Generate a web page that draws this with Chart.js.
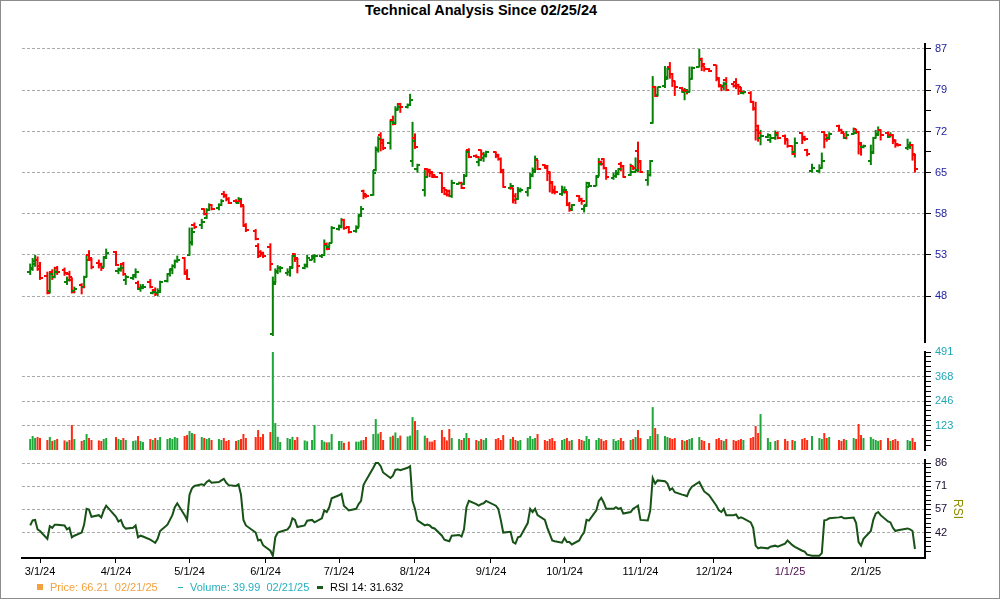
<!DOCTYPE html>
<html>
<head>
<meta charset="utf-8">
<title>Technical Analysis</title>
<script src="https://cdn.jsdelivr.net/npm/chart.js@4.4.1/dist/chart.umd.min.js"></script>
<style>
  body { margin: 0; background: #fff; font-family: "Liberation Sans", Arial, sans-serif; }
  #frame { position: relative; width: 1000px; height: 600px; overflow: hidden; background: #fff; }
  #edge { position: absolute; left: 0; top: 0; width: 998px; height: 597px; border: 1px solid #8c8c8c; pointer-events: none; }
  canvas { position: absolute; left: 0; }
  #title { position: absolute; top: 2px; left: 0; width: 962px; text-align: center; font-weight: bold; font-size: 14.5px; line-height: 16px; color: #000; }
  .lg { position: absolute; top: 581px; font-size: 11px; line-height: 13px; white-space: pre; }
</style>
</head>
<body>
<div id="frame">
  <div id="title">Technical Analysis Since 02/25/24</div>
  <canvas id="priceChart" width="1000" height="310" style="top:38px"></canvas>
  <canvas id="volumeChart" width="1000" height="112" style="top:344px"></canvas>
  <canvas id="rsiChart" width="1000" height="126" style="top:454px"></canvas>
  <div style="position:absolute;left:37px;top:584px;width:6px;height:6px;background:#f4a13c"></div>
  <div class="lg" style="left:50px;color:#f4a13c">Price: 66.21  02/21/25</div>
  <div style="position:absolute;left:178px;top:587px;width:5px;height:1px;background:#26b0bf"></div>
  <div class="lg" style="left:190px;color:#26b0bf">Volume: 39.99  02/21/25</div>
  <div style="position:absolute;left:317px;top:586px;width:6px;height:3px;background:#1e5a1e"></div>
  <div class="lg" style="left:330px;color:#000">RSI 14: 31.632</div>
  <div id="edge"></div>
</div>
<script>
const dates = [
  '2/26/24','2/27/24','2/28/24','2/29/24',
  '3/1/24','3/4/24','3/5/24','3/6/24','3/7/24','3/8/24','3/11/24','3/12/24','3/13/24','3/14/24','3/15/24','3/18/24','3/19/24','3/20/24','3/21/24','3/22/24','3/25/24','3/26/24','3/27/24','3/28/24',
  '4/1/24','4/2/24','4/3/24','4/4/24','4/5/24','4/8/24','4/9/24','4/10/24','4/11/24','4/12/24','4/15/24','4/16/24','4/17/24','4/18/24','4/19/24','4/22/24','4/23/24','4/24/24','4/25/24','4/26/24','4/29/24','4/30/24',
  '5/1/24','5/2/24','5/3/24','5/6/24','5/7/24','5/8/24','5/9/24','5/10/24','5/13/24','5/14/24','5/15/24','5/16/24','5/17/24','5/20/24','5/21/24','5/22/24','5/23/24','5/24/24','5/28/24','5/29/24','5/30/24','5/31/24',
  '6/3/24','6/4/24','6/5/24','6/6/24','6/7/24','6/10/24','6/11/24','6/12/24','6/13/24','6/14/24','6/17/24','6/18/24','6/20/24','6/21/24','6/24/24','6/25/24','6/26/24','6/27/24','6/28/24',
  '7/1/24','7/2/24','7/3/24','7/5/24','7/8/24','7/9/24','7/10/24','7/11/24','7/12/24','7/15/24','7/16/24','7/17/24','7/18/24','7/19/24','7/22/24','7/23/24','7/24/24','7/25/24','7/26/24','7/29/24','7/30/24','7/31/24',
  '8/1/24','8/2/24','8/5/24','8/6/24','8/7/24','8/8/24','8/9/24','8/12/24','8/13/24','8/14/24','8/15/24','8/16/24','8/19/24','8/20/24','8/21/24','8/22/24','8/23/24','8/26/24','8/27/24','8/28/24','8/29/24','8/30/24',
  '9/3/24','9/4/24','9/5/24','9/6/24','9/9/24','9/10/24','9/11/24','9/12/24','9/13/24','9/16/24','9/17/24','9/18/24','9/19/24','9/20/24','9/23/24','9/24/24','9/25/24','9/26/24','9/27/24','9/30/24',
  '10/1/24','10/2/24','10/3/24','10/4/24','10/7/24','10/8/24','10/9/24','10/10/24','10/11/24','10/14/24','10/15/24','10/16/24','10/17/24','10/18/24','10/21/24','10/22/24','10/23/24','10/24/24','10/25/24','10/28/24','10/29/24','10/30/24','10/31/24',
  '11/1/24','11/4/24','11/5/24','11/6/24','11/7/24','11/8/24','11/11/24','11/12/24','11/13/24','11/14/24','11/15/24','11/18/24','11/19/24','11/20/24','11/21/24','11/22/24','11/25/24','11/26/24','11/27/24','11/29/24',
  '12/2/24','12/3/24','12/4/24','12/5/24','12/6/24','12/9/24','12/10/24','12/11/24','12/12/24','12/13/24','12/16/24','12/17/24','12/18/24','12/19/24','12/20/24','12/23/24','12/24/24','12/26/24','12/27/24','12/30/24','12/31/24',
  '1/2/25','1/3/25','1/6/25','1/7/25','1/8/25','1/10/25','1/13/25','1/14/25','1/15/25','1/16/25','1/17/25','1/21/25','1/22/25','1/23/25','1/24/25','1/27/25','1/28/25','1/29/25','1/30/25','1/31/25',
  '2/3/25','2/4/25','2/5/25','2/6/25','2/7/25','2/10/25','2/11/25','2/12/25','2/13/25','2/14/25','2/18/25','2/19/25','2/20/25','2/21/25'
];

const opens = [
  50.8, 51.3, 51.8, 52.3,
  51.6, 50.4, 48.6, 50.8, 50.3, 51.3, 51.1, 49.6, 50.6, 49.9, 48.6, 49.3, 49.1, 50.3, 53.0, 52.4, 52.0, 51.9, 51.5, 52.7,
  53.4, 51.0, 51.1, 51.8, 49.9, 50.1, 50.5, 49.5, 48.8, 48.9, 49.6, 48.4, 48.7, 48.3, 48.6, 49.8, 50.6, 51.1, 51.6, 52.2, 52.6, 50.8,
  53.0, 54.6, 57.0, 56.9, 59.2, 57.9, 59.1, 59.7, 59.3, 59.8, 61.4, 61.2, 60.7, 60.4, 60.1, 60.3, 59.6, 56.8, 56.1, 54.2, 53.4, 53.2,
  54.0, 43.8, 49.6, 50.9, 51.3, 50.7, 50.8, 51.5, 53.1, 52.5, 51.4, 51.7, 52.4, 52.6, 52.8, 53.0, 54.4, 54.0, 54.6,
  56.4, 56.8, 57.7, 56.7, 56.2, 56.7, 58.3, 61.8, 61.3, 61.2, 65.0, 68.4, 70.7, 69.8, 69.4, 73.4, 72.8, 75.2, 76.2, 75.7, 76.0, 66.5,
  70.3, 65.2, 62.0, 65.2, 65.0, 64.6, 64.2, 64.5, 62.3, 61.9, 61.8, 61.0, 62.9, 63.0, 62.8, 64.1, 68.3, 67.3, 66.3, 68.2, 66.9, 67.4,
  67.9, 67.4, 66.8, 65.0, 62.3, 62.2, 61.0, 60.7, 61.8, 61.7, 62.3, 64.2, 65.0, 66.6, 65.8, 65.6, 64.6, 63.0, 62.0, 61.3,
  61.6, 61.7, 59.9, 59.2, 61.0, 60.7, 59.2, 59.7, 62.4, 62.6, 64.1, 66.3, 66.7, 65.3, 63.7, 64.1, 64.4, 66.0, 65.7, 64.2, 65.6, 64.7, 68.0,
  66.5, 63.5, 64.2, 72.8, 79.4, 77.8, 79.5, 81.0, 83.4, 82.0, 80.5, 79.2, 78.5, 78.7, 78.5, 81.0, 83.3, 85.0, 83.5, 83.0,
  83.7, 81.2, 79.7, 79.5, 80.8, 79.9, 80.4, 79.8, 79.3, 78.2, 78.2, 76.6, 75.5, 72.2, 70.2, 70.4, 69.9, 70.2, 71.0, 70.5, 69.9,
  68.9, 67.9, 71.0, 70.4, 68.3, 64.8, 64.9, 65.3, 71.2, 70.8, 70.3, 72.3, 71.6, 71.0, 70.3, 70.9, 71.7, 71.3, 69.2, 68.7,
  66.5, 67.9, 70.2, 70.9, 71.6, 71.0, 70.4, 70.8, 69.8, 69.2, 68.5, 68.7, 69.0, 67.5
];

const highs = [
  51.9, 52.6, 53.0, 52.8,
  52.1, 50.9, 50.8, 51.2, 51.5, 51.6, 51.4, 50.3, 51.0, 50.2, 49.1, 49.5, 50.4, 53.0, 53.6, 52.6, 52.4, 52.0, 52.8, 53.8,
  53.5, 51.4, 51.8, 52.1, 50.5, 50.6, 51.3, 49.8, 49.4, 49.4, 50.0, 48.8, 49.0, 48.9, 49.8, 50.7, 51.3, 51.8, 52.4, 52.9, 52.7, 51.2,
  56.6, 56.6, 57.3, 57.8, 59.3, 59.3, 60.0, 59.9, 60.0, 60.6, 61.8, 61.4, 60.9, 60.6, 60.9, 60.5, 59.7, 57.2, 56.4, 54.5, 53.6, 53.4,
  54.5, 50.3, 51.3, 51.7, 51.6, 51.3, 51.6, 53.0, 53.2, 52.6, 51.9, 53.0, 53.0, 53.1, 53.1, 55.0, 54.6, 54.6, 56.8,
  57.0, 57.9, 57.8, 56.8, 56.9, 58.4, 59.6, 62.0, 61.4, 65.0, 68.8, 70.5, 71.2, 70.1, 73.4, 74.1, 75.8, 76.3, 76.4, 76.3, 78.1, 73.0,
  71.0, 66.0, 65.0, 65.3, 65.2, 64.7, 64.3, 64.6, 62.4, 62.0, 62.0, 63.5, 63.2, 63.2, 64.4, 68.2, 68.5, 67.5, 67.2, 68.3, 67.9, 68.1,
  68.0, 67.6, 67.0, 65.2, 63.0, 62.3, 61.5, 62.4, 62.3, 62.4, 64.6, 65.4, 67.3, 66.6, 65.9, 65.8, 64.8, 63.2, 62.6, 62.6,
  62.5, 61.8, 60.2, 59.9, 61.2, 60.8, 59.8, 63.2, 62.9, 64.2, 66.9, 66.5, 66.9, 65.4, 64.6, 65.0, 65.3, 66.3, 65.8, 66.0, 65.7, 67.0, 69.6,
  66.6, 65.0, 66.6, 81.5, 79.6, 79.5, 83.5, 83.2, 84.3, 82.1, 80.6, 79.4, 79.2, 79.0, 83.4, 83.4, 87.0, 85.2, 83.6, 83.1,
  83.8, 81.3, 79.9, 80.4, 81.3, 80.1, 81.1, 80.0, 79.4, 78.7, 78.6, 76.8, 76.6, 72.5, 71.6, 71.0, 70.8, 71.5, 71.3, 70.8, 70.1,
  69.0, 70.3, 71.2, 70.6, 68.4, 66.0, 65.9, 67.8, 71.4, 70.9, 71.2, 72.5, 71.8, 71.1, 71.4, 72.0, 71.8, 71.4, 69.5, 69.1,
  69.1, 70.4, 71.6, 72.2, 71.7, 71.3, 71.2, 70.9, 70.0, 69.3, 70.1, 69.6, 69.2, 67.6
];

const lows = [
  50.5, 51.0, 51.5, 51.0,
  49.9, 48.2, 48.3, 49.9, 50.1, 50.5, 50.4, 49.3, 49.7, 48.3, 48.3, 48.2, 48.9, 50.2, 52.4, 51.2, 51.3, 51.0, 51.4, 52.5,
  51.6, 50.6, 50.9, 50.4, 49.3, 49.9, 50.1, 48.7, 48.5, 48.8, 48.9, 48.2, 48.0, 48.0, 48.5, 49.6, 50.3, 50.6, 51.3, 52.0, 50.5, 49.9,
  52.9, 54.2, 56.4, 56.4, 58.3, 57.8, 58.9, 59.0, 59.0, 59.6, 60.8, 60.3, 59.9, 60.0, 59.9, 59.4, 56.7, 56.0, 54.9, 52.6, 52.8, 52.6,
  51.0, 43.6, 49.5, 50.6, 50.8, 50.4, 50.3, 51.3, 52.1, 50.7, 51.2, 51.4, 52.3, 52.0, 52.6, 52.9, 53.6, 53.9, 54.5,
  56.2, 56.5, 56.3, 55.8, 55.9, 56.6, 58.1, 60.6, 60.8, 61.1, 64.8, 67.8, 68.0, 68.2, 68.3, 72.4, 72.6, 75.0, 74.6, 75.4, 75.9, 65.5,
  68.4, 64.6, 61.0, 64.0, 63.9, 63.8, 63.9, 61.5, 61.2, 61.0, 60.9, 60.8, 62.8, 62.1, 62.7, 64.0, 66.9, 66.9, 65.6, 66.5, 66.3, 67.0,
  66.9, 66.5, 64.5, 62.3, 62.0, 60.0, 59.9, 60.5, 61.6, 61.0, 62.1, 63.9, 64.8, 65.0, 65.2, 63.3, 61.6, 61.4, 61.3, 61.1,
  61.4, 59.6, 58.8, 58.9, 60.2, 59.8, 58.7, 59.5, 62.4, 62.5, 64.0, 65.7, 65.1, 63.5, 63.5, 63.8, 64.2, 64.8, 63.8, 64.1, 65.0, 64.6, 64.7,
  64.6, 62.6, 64.0, 72.7, 77.5, 77.6, 79.2, 80.8, 81.0, 79.4, 77.7, 78.3, 76.9, 78.0, 78.4, 80.8, 83.2, 82.5, 82.4, 82.3,
  80.5, 79.3, 78.6, 78.8, 78.6, 79.3, 79.0, 77.9, 78.2, 78.0, 76.4, 75.0, 69.8, 69.6, 69.0, 70.2, 69.4, 69.9, 70.0, 69.1, 68.6,
  67.4, 67.0, 69.2, 69.7, 67.2, 64.6, 64.5, 65.2, 68.5, 69.6, 70.0, 71.3, 70.9, 70.1, 70.0, 70.8, 71.0, 67.5, 67.3, 68.5,
  65.8, 67.6, 70.1, 70.7, 69.8, 70.3, 70.3, 69.2, 68.6, 68.8, 68.2, 68.4, 66.5, 64.6
];

const closes = [
  51.2, 52.2, 52.3, 51.2,
  50.1, 48.4, 50.6, 50.2, 50.8, 50.8, 50.7, 49.9, 50.2, 48.5, 48.8, 49.0, 50.2, 52.4, 52.6, 51.5, 51.7, 51.3, 52.6, 53.3,
  51.7, 51.2, 51.4, 50.6, 50.3, 50.4, 50.8, 48.9, 49.1, 49.0, 49.0, 48.5, 48.2, 48.5, 49.7, 50.6, 51.2, 51.6, 52.2, 52.3, 50.6, 50.0,
  54.7, 56.0, 56.7, 57.4, 58.5, 59.0, 59.8, 59.2, 59.7, 60.3, 61.0, 60.6, 60.1, 60.2, 60.7, 59.7, 56.9, 56.3, 55.0, 52.8, 53.1, 52.9,
  51.8, 49.4, 51.0, 51.4, 51.4, 50.9, 51.4, 52.8, 52.6, 51.6, 51.6, 52.6, 52.8, 52.9, 53.0, 54.3, 53.8, 54.5, 56.5,
  56.7, 57.6, 56.5, 56.0, 56.6, 58.2, 59.2, 61.0, 61.0, 64.6, 68.2, 70.0, 69.4, 68.6, 73.1, 72.6, 75.3, 75.7, 75.7, 76.0, 76.9, 69.7,
  68.7, 65.8, 64.0, 64.7, 64.7, 64.0, 64.0, 62.3, 61.4, 61.2, 61.0, 63.0, 63.0, 62.3, 64.1, 67.9, 67.1, 67.1, 66.6, 67.6, 67.2, 67.9,
  67.2, 66.8, 64.7, 62.4, 62.6, 60.5, 60.6, 62.0, 62.0, 62.2, 64.1, 64.7, 66.8, 65.1, 65.4, 64.7, 63.2, 61.6, 61.6, 62.0,
  62.0, 59.7, 59.0, 59.7, 60.5, 60.4, 59.6, 63.0, 62.6, 64.0, 66.0, 65.9, 65.3, 64.0, 64.1, 64.6, 65.1, 65.6, 64.0, 64.7, 65.3, 65.0, 66.3,
  64.7, 64.2, 66.5, 79.3, 77.7, 79.3, 81.3, 82.9, 82.0, 80.5, 79.3, 78.9, 78.8, 78.4, 80.9, 83.2, 84.7, 83.9, 82.9, 82.5,
  81.0, 79.5, 79.3, 79.9, 78.9, 79.5, 79.6, 78.6, 78.4, 78.4, 76.6, 75.3, 71.5, 71.1, 70.6, 70.7, 70.2, 70.7, 70.3, 70.0, 68.8,
  67.6, 69.4, 70.0, 70.0, 67.5, 65.4, 65.4, 66.4, 70.0, 70.0, 70.9, 71.6, 71.2, 70.2, 70.8, 71.1, 71.3, 69.4, 68.7, 68.9,
  67.8, 70.2, 70.8, 71.6, 70.8, 70.7, 70.7, 69.7, 69.0, 69.0, 69.0, 69.1, 67.4, 65.1
];

const volumes = [
  55, 70, 60, 65,
  60, 50, 65, 45, 50, 55, 48, 42, 50, 125, 55, 45, 50, 80, 60, 50, 48, 45, 55, 60,
  65, 55, 50, 60, 50, 45, 48, 70, 45, 40, 55, 50, 60, 50, 65, 55, 60, 55, 65, 60, 70, 75,
  95, 85, 80, 65, 60, 55, 60, 50, 55, 50, 60, 45, 50, 45, 50, 55, 80, 60, 65, 100, 65, 80,
  90, 491, 135, 66, 40, 60, 55, 66, 50, 65, 48, 44, 50, 125, 50, 42, 38, 39, 80,
  45, 45, 36, 42, 42, 42, 48, 50, 65, 80, 155, 82, 90, 50, 66, 72, 88, 60, 72, 68, 72, 165,
  145, 100, 72, 60, 42, 42, 50, 100, 65, 48, 105, 60, 55, 50, 60, 85, 60, 50, 45, 55, 50, 60,
  55, 60, 50, 75, 55, 65, 50, 45, 50, 60, 70, 55, 60, 80, 50, 45, 55, 60, 45, 50,
  55, 60, 45, 50, 55, 50, 45, 70, 55, 50, 60, 55, 45, 50, 55, 45, 50, 60, 45, 50, 55, 65, 100,
  60, 55, 70, 215, 110, 80, 70, 65, 60, 55, 60, 50, 45, 50, 55, 60, 65, 50, 45, 35,
  55, 60, 50, 45, 55, 50, 45, 50, 55, 50, 60, 65, 120, 85, 180, 60, 40, 45, 50, 55, 45,
  50, 45, 55, 60, 50, 70, 60, 55, 85, 60, 65, 50, 45, 55, 50, 60, 55, 130, 75, 60,
  65, 55, 50, 45, 50, 60, 45, 50, 55, 45, 50, 45, 60, 40
];

const rsi14 = [
  46.5, 49.7, 50, 44,
  43, 38, 46, 45, 47, 47, 46.5, 44, 45, 39, 40, 42, 47, 57, 56.5, 52, 53, 51.5, 56, 59,
  52, 49, 50, 46, 44.5, 45, 46.5, 39, 40, 39.5, 37.5, 36.5, 35.5, 38, 43, 47, 50, 53, 58, 60.5, 53, 50,
  66, 70, 71.5, 72.5, 72, 74, 75, 73.5, 74, 75, 76, 73.5, 72, 71.5, 72.5, 66, 50, 46.5, 42, 37, 37.5, 34,
  30.5, 27.3, 39, 42, 42.5, 44, 46, 51, 50, 45.5, 46.5, 49.5, 50, 48.5, 51, 56, 55, 58, 63.7,
  65.6, 66.5, 59, 56, 57, 60, 62, 72, 75, 83, 86, 86, 84, 80, 76.5, 78, 81.6, 82, 81.5, 83, 84, 62,
  57, 49.7, 46.5, 47, 46.5, 45, 44.6, 40, 37.5, 37, 36.5, 40, 40.5, 39.5, 44, 58, 62, 60, 59, 60, 60.5, 62,
  59, 57, 50, 42, 42.5, 36, 35, 39, 39.5, 48, 57, 55, 57, 53, 50, 45, 41, 37, 36.5, 35.6,
  38.5, 36, 36, 34.5, 37, 40, 42, 50, 49.5, 56, 62, 64, 61, 57, 57, 58, 57, 57.5, 54, 55, 57, 58, 59,
  50, 49.7, 56, 76.5, 73, 75, 74.5, 73, 69, 70, 67.5, 66, 65.6, 65, 68.8, 71, 74, 71, 68, 65.6,
  59, 56, 55, 57, 53, 53, 53.5, 51, 51.6, 51, 48.4, 45, 33.7, 32, 32.5, 32, 33, 33.7, 33, 35, 37,
  34, 33, 30.5, 30, 28, 27.3, 27.3, 29, 49.7, 50, 51, 51.6, 52, 51, 51, 51.5, 48, 36, 33.7, 38,
  43, 50, 54, 55, 53, 49, 48.4, 45, 43, 43.5, 44.6, 44, 43, 31.6
];

const monthTicks = ['3/1/24','4/1/24','5/1/24','6/1/24','7/1/24','8/1/24','9/1/24','10/1/24','11/1/24','12/1/24','1/1/25','2/1/25'];

const priceTickValues = [48, 53.0, 58.5, 64.6, 71.3, 78.8, 87.0];
const priceTickLabels = ['48', '53', '58', '65', '72', '79', '87'];
const priceMinorTicks = [67.9, 75.0, 82.8];

const volumeTickValues = [122.75, 245.5, 368.25, 491];
const volumeTickLabels = ['123', '246', '368', '491'];

const rsiTickValues = [42, 56.67, 71.33, 86];
const rsiTickLabels = ['42', '57', '71', '86'];

// day number counted from 3/1/24, so the time axis is calendar-linear like the original
function dayNumber(s) {
    const [m, d, y] = s.split('/').map(Number);
    return (Date.UTC(2000 + y, m - 1, d) - Date.UTC(2024, 2, 1)) / 86400000;
}

const xs = dates.map(dayNumber);
const xMin = -7.35, xMax = 361.1;
const upColor = '#078207', downColor = '#ff0000';
const barColors = closes.map((c, i) => c >= opens[i] ? upColor : downColor);
const volColors = closes.map((c, i) => c >= opens[i] ? '#1fa83a' : '#ff2a12');

Chart.defaults.font.family = '"Liberation Sans", Arial, sans-serif';
Chart.defaults.font.size = 11;

function minorGrid(ctx) {
    return ctx.tick && ctx.tick.minor ? 'rgba(0,0,0,0)' : '#aaaaaa';
}

function hiddenX() {
    return { type: 'linear', min: xMin, max: xMax, offset: false, display: false };
}

// fixed axis box, no extra room for label overflow, so every pane keeps its exact plot area
function fitRight(width) {
    return s => { s.width = width; s.paddingTop = 0; s.paddingBottom = 0; };
}

const ohlcTicks = {
    id: 'ohlcTicks',
    afterDatasetsDraw(chart) {
        const { ctx, scales: { x, y } } = chart;
        ctx.save();
        ctx.lineWidth = 2;
        xs.forEach((d, i) => {
            const px = Math.round(x.getPixelForValue(d));
            const yo = Math.round(y.getPixelForValue(opens[i]));
            const yc = Math.round(y.getPixelForValue(closes[i]));
            ctx.strokeStyle = barColors[i];
            ctx.beginPath();
            ctx.moveTo(px - 3, yo);
            ctx.lineTo(px, yo);
            ctx.moveTo(px, yc);
            ctx.lineTo(px + 3, yc);
            ctx.stroke();
        });
        ctx.restore();
    }
};

const baseOptions = {
    animation: false,
    responsive: false,
    devicePixelRatio: 1,
    events: [],
    plugins: { legend: { display: false }, tooltip: { enabled: false } }
};

new Chart(document.getElementById('priceChart'), {
    type: 'bar',
    data: {
        datasets: [{
            data: xs.map((x, i) => ({ x: x, y: [lows[i], highs[i]] })),
            backgroundColor: barColors,
            borderWidth: 0,
            inflateAmount: 0,
            barThickness: 2,
            grouped: false
        }]
    },
    options: {
        ...baseOptions,
        layout: { padding: { left: 22, top: 6, bottom: 6, right: 0 } },
        scales: {
            x: hiddenX(),
            y: {
                type: 'logarithmic',
                position: 'right',
                min: 42.97,
                max: 88.05,
                afterFit: fitRight(75),
                afterBuildTicks: s => {
                    s.ticks = priceTickValues.map(v => ({ value: v }))
                        .concat(priceMinorTicks.map(v => ({ value: v, minor: true })));
                },
                ticks: {
                    autoSkip: false,
                    padding: 4,
                    color: '#2121a6',
                    callback: (v) => {
                        const k = priceTickValues.indexOf(v);
                        return k >= 0 ? priceTickLabels[k] : '';
                    }
                },
                grid: { color: minorGrid, tickColor: '#000', tickLength: 6, lineWidth: 1 },
                border: { display: true, color: '#000', width: 2, dash: [3, 2] }
            }
        }
    },
    plugins: [ohlcTicks]
});

new Chart(document.getElementById('volumeChart'), {
    type: 'bar',
    data: {
        datasets: [{
            data: xs.map((x, i) => ({ x: x, y: volumes[i] })),
            backgroundColor: volColors,
            borderWidth: 0,
            inflateAmount: 0,
            barThickness: 2,
            grouped: false
        }]
    },
    options: {
        ...baseOptions,
        layout: { padding: { left: 22, top: 8, bottom: 6, right: 0 } },
        scales: {
            x: hiddenX(),
            y: {
                type: 'linear',
                position: 'right',
                min: 0,
                max: 491,
                afterFit: fitRight(75),
                afterBuildTicks: s => {
                    const t = [];
                    for (let k = 1; k < 20; k++) {
                        if (k % 5 !== 0) t.push({ value: k * 491 / 20, minor: true });
                    }
                    s.ticks = t.concat(volumeTickValues.map((v, k) => ({ value: v, top: k === 3 })));
                },
                ticks: {
                    autoSkip: false,
                    padding: 4,
                    color: '#1fa7b6',
                    callback: (v) => {
                        const k = volumeTickValues.indexOf(v);
                        return k >= 0 ? volumeTickLabels[k] : '';
                    }
                },
                grid: {
                    color: c => (c.tick && (c.tick.minor || c.tick.top)) ? 'rgba(0,0,0,0)' : '#aaaaaa',
                    tickColor: '#000', tickLength: 6, lineWidth: 1
                },
                border: { display: true, color: '#000', width: 2, dash: [3, 2] }
            }
        }
    }
});

new Chart(document.getElementById('rsiChart'), {
    type: 'line',
    data: {
        datasets: [{
            data: xs.map((x, i) => ({ x: x, y: rsi14[i] })),
            borderColor: '#175217',
            borderWidth: 2,
            pointRadius: 0,
            tension: 0,
            fill: false
        }]
    },
    options: {
        ...baseOptions,
        layout: { padding: { left: 22, top: 6, bottom: 0, right: 31 } },
        scales: {
            x: {
                type: 'linear',
                min: xMin,
                max: xMax,
                offset: false,
                afterFit: s => { s.height = 22; s.paddingLeft = 0; s.paddingRight = 0; },
                afterBuildTicks: s => { s.ticks = monthTicks.map(t => ({ value: dayNumber(t) })); },
                ticks: {
                    autoSkip: false,
                    maxRotation: 0,
                    padding: 2,
                    color: c => (c.tick && c.tick.label === '1/1/25') ? '#4d0a4d' : '#000',
                    callback: (v, i) => monthTicks[i]
                },
                grid: { drawOnChartArea: false, tickColor: '#000', tickLength: 5 },
                border: { display: true, color: '#000', width: 2 }
            },
            y: {
                type: 'linear',
                position: 'right',
                min: 25.9,
                max: 87.9,
                afterFit: fitRight(44),
                afterBuildTicks: s => {
                    const t = [];
                    for (let k = -5; k <= 15; k++) {
                        const v = 42 + k * 14.667 / 5;
                        if (k % 5 !== 0 && v > 25.9 && v < 87.9) t.push({ value: v, minor: true });
                    }
                    s.ticks = t.concat(rsiTickValues.map(v => ({ value: v })));
                },
                ticks: {
                    autoSkip: false,
                    padding: 4,
                    color: '#1a0d30',
                    callback: (v) => {
                        const k = rsiTickValues.indexOf(v);
                        return k >= 0 ? rsiTickLabels[k] : '';
                    }
                },
                title: { display: true, text: 'RSI', color: '#8c8c00', font: { size: 12 } },
                grid: { color: minorGrid, tickColor: '#000', tickLength: 6, lineWidth: 1 },
                border: { display: true, color: '#000', width: 2, dash: [3, 2] }
            }
        }
    }
});
</script>
</body>
</html>
